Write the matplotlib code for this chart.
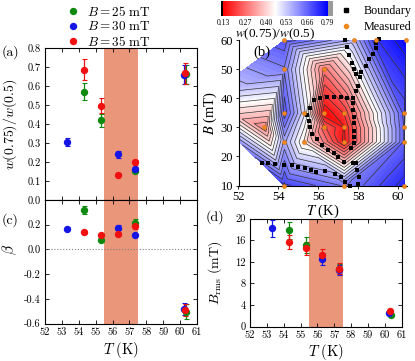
import matplotlib
matplotlib.use("Agg")
import matplotlib.pyplot as plt
import numpy as np
import matplotlib.tri as mtri
from matplotlib.colors import LinearSegmentedColormap, Normalize
from matplotlib.cm import ScalarMappable
from matplotlib.lines import Line2D

plt.rcParams['font.family'] = 'cmr10'
plt.rcParams['mathtext.fontset'] = 'cm'
plt.rcParams['axes.unicode_minus'] = False
plt.rcParams['axes.formatter.use_mathtext'] = False

# ---- series data: temperature (K), values, errors ----
fields = ["25", "30", "35"]
colors = ["#0f8a0f", "#1515e6", "#f01010"]

T_g = [54.3, 55.3, 57.3, 60.35]
T_b = [53.3, 56.3, 57.3, 60.25]
T_r = [54.3, 55.3, 56.3, 57.3, 60.3]

# (a) w(0.75)/w(0.5)
w_g = [0.57, 0.42, 0.155, 0.663]
w_g_err = [0.045, 0.035, 0.01, 0.05]
w_b = [0.305, 0.24, 0.161, 0.658]
w_b_err = [0.022, 0.018, 0.015, 0.05]
w_r = [0.685, 0.497, 0.133, 0.199, 0.668]
w_r_err = [0.055, 0.04, 0.008, 0.013, 0.055]

# (c) beta
beta_g = [0.32, 0.076, 0.217, -0.505]
beta_g_err = [0.03, 0.01, 0.03, 0.06]
beta_b = [0.169, 0.177, 0.116, -0.485]
beta_b_err = [0.015, 0.02, 0.01, 0.05]
beta_r = [0.137, 0.116, 0.123, 0.187, -0.49]
beta_r_err = [0.01, 0.01, 0.01, 0.02, 0.05]

# (d) B_rms (mT)
brms_g = [17.8, 15.1, 10.6, 2.2]
brms_g_err = [1.5, 1.4, 0.9, 0.2]
brms_b = [18.2, 12.5, 10.5, 2.6]
brms_b_err = [1.6, 1.1, 0.9, 0.2]
brms_r = [15.6, 14.5, 13.3, 10.7, 2.9]
brms_r_err = [1.3, 1.2, 1.1, 1.0, 0.2]

# (b) contour map: measured points (T, B) and w(0.75)/w(0.5)
meas_T = [54.3, 57.8, 58.9, 60.4, 54.3, 56.3,
          54.3, 55.3, 56.3, 57.3, 60.3,
          53.3, 56.3, 57.3, 60.3,
          54.3, 55.3, 57.3, 60.3,
          54.3, 57.3, 60.3]
meas_B = [60, 60, 60, 60, 50, 50,
          35, 35, 35, 35, 35,
          30, 30, 30, 30,
          25, 25, 25, 25,
          10, 10, 10]
meas_Z = [0.68, 0.55, 0.72, 0.78, 0.62, 0.28,
          0.68, 0.50, 0.135, 0.20, 0.67,
          0.30, 0.24, 0.16, 0.66,
          0.57, 0.42, 0.155, 0.66,
          0.70, 0.62, 0.74]
# point outside the visible window that closes the map on the left
extra_T = [50.0]
extra_B = [38.5]
extra_Z = [0.48]

bound_T = [57.33, 59.04, 58.91, 58.88, 57.44, 57.54, 58.74, 58.54, 58.38, 57.71,
           57.78, 57.88, 58.16, 58.11, 57.99, 57.91, 57.74, 57.46, 57.16, 56.79,
           56.46, 56.11, 55.78, 55.58, 55.46, 55.53, 55.61, 55.71, 55.96, 56.19,
           56.49, 56.79, 56.99, 57.29, 57.74, 57.91, 57.96, 58.03, 57.58, 57.33,
           57.13, 56.83, 56.33, 55.91, 55.66, 55.33, 54.99, 54.66, 54.29, 53.83,
           53.49, 53.19, 57.74, 57.74, 57.79, 57.79, 57.79, 57.79, 57.79, 57.66,
           57.99]
bound_B = [60.0, 60.3, 59.1, 57.3, 57.6, 55.0, 55.4, 53.6, 51.2, 52.2,
           50.1, 48.4, 49.0, 47.2, 44.3, 42.4, 40.2, 40.2, 40.4, 40.4,
           40.4, 40.2, 39.4, 36.6, 34.2, 32.3, 30.2, 27.7, 25.9, 23.9,
           22.2, 21.2, 19.7, 18.1, 17.8, 17.8, 15.5, 12.8, 9.9, 11.2,
           12.8, 13.9, 15.0, 14.7, 15.3, 15.9, 16.4, 17.0, 17.0, 17.3,
           17.6, 17.8, 38.3, 36.0, 33.7, 31.4, 28.8, 26.6, 24.5, 23.0,
           10.4]

cbar_ticks = [0.13, 0.27, 0.40, 0.53, 0.66, 0.79]

band = (55.5, 57.5)
band_color = "#e9967a"
times = "Liberation Serif"

W, H = 415, 361
fig = plt.figure(figsize=(W / 100, H / 100), dpi=100)


def px(l, t, r, b):
    return [l / W, 1 - b / H, (r - l) / W, (b - t) / H]


ax_a = fig.add_axes(px(45, 48, 197, 200))
ax_c = fig.add_axes(px(45, 200, 197, 323.5), sharex=ax_a)
ax_d = fig.add_axes(px(250, 218.5, 401.5, 326.7))
ax_b = fig.add_axes(px(238.5, 40.3, 407, 185.5))
cax = fig.add_axes(px(221, 1, 333, 16))

series = [
    (T_g, w_g, w_g_err, beta_g, beta_g_err, brms_g, brms_g_err, colors[0]),
    (T_b, w_b, w_b_err, beta_b, beta_b_err, brms_b, brms_b_err, colors[1]),
    (T_r, w_r, w_r_err, beta_r, beta_r_err, brms_r, brms_r_err, colors[2]),
]

ekw = dict(fmt='o', ms=4.3, capsize=1.8, elinewidth=0.9, capthick=0.8, zorder=3)
for T, w, we, bt, bte, br, bre, c in series:
    ax_a.errorbar(T, w, yerr=we, color=c, **ekw)
    ax_c.errorbar(T, bt, yerr=bte, color=c, **ekw)
    ax_d.errorbar(T, br, yerr=bre, color=c, **ekw)

for ax in (ax_a, ax_c, ax_d):
    ax.axvspan(band[0], band[1], color=band_color, lw=0, zorder=1)
    ax.tick_params(direction='in', top=True, right=True, length=3, width=0.6,
                   labelsize=7.5, pad=3)
    for s in ax.spines.values():
        s.set_linewidth(0.8)
    ax.set_xlim(52, 61)
    ax.set_xticks(range(52, 62))

ax_a.set_ylim(0, 0.8)
ax_a.set_yticks(np.arange(0, 0.81, 0.1))
ax_a.yaxis.set_major_formatter(matplotlib.ticker.FormatStrFormatter('%.1f'))
ax_a.tick_params(labelbottom=False)
ax_a.set_ylabel(r"$w(0.75)/w(0.5)$", fontsize=10)
ax_a.yaxis.set_label_coords(-0.17, 0.5)

ax_c.set_ylim(-0.6, 0.4)
ax_c.set_yticks([-0.6, -0.4, -0.2, 0.0, 0.2])
ax_c.yaxis.set_major_formatter(matplotlib.ticker.FormatStrFormatter('%.1f'))
ax_c.axhline(0, color='gray', ls=':', lw=0.8, zorder=2)
ax_c.set_ylabel(r"$\beta$", fontsize=11)
ax_c.yaxis.set_label_coords(-0.17, 0.6)
ax_c.set_xlabel(r"$T\ (\mathrm{K})$", fontsize=10.5, labelpad=2)

ax_d.set_ylim(0, 20)
ax_d.set_yticks(range(0, 21, 4))
ax_d.set_ylabel(r"$B_{\mathrm{rms}}\ (\mathrm{mT})$", fontsize=10)
ax_d.yaxis.set_label_coords(-0.17, 0.5)
ax_d.set_xlabel(r"$T\ (\mathrm{K})$", fontsize=10.5, labelpad=1)

fig.text(10 / W, 1 - 52 / H, "(a)", fontsize=10, ha='center', va='center')
fig.text(10 / W, 1 - 220 / H, "(c)", fontsize=10, ha='center', va='center')
fig.text(215 / W, 1 - 217 / H, "(d)", fontsize=10, ha='center', va='center')

handles = [Line2D([], [], marker='o', ls='none', ms=4.3, color=c) for c in colors]
labels = [r"$B = %s\ \mathrm{mT}$" % f for f in fields]
fig.legend(handles, labels, loc='upper left', bbox_to_anchor=(57 / W, 1.012),
           frameon=False, fontsize=9.5, handlelength=1.0, handletextpad=0.6,
           labelspacing=0.12, borderpad=0.2)

# ---- (b) contour map ----
cmap = LinearSegmentedColormap.from_list('rwb', ['#ff0000', '#ffffff', '#0000ff'])
cmap.set_under('black')
cmap.set_over('#9a9a9a')
vmin, vmax = 0.13, 0.79
all_T = np.array(meas_T + extra_T, dtype=float)
all_B = np.array(meas_B + extra_B, dtype=float)
Z = np.array(meas_Z + extra_Z)
# triangulate in screen-like proportions, then map back to data units
tri0 = mtri.Triangulation(all_T, all_B * 0.145)
tri = mtri.Triangulation(all_T, all_B, triangles=tri0.triangles)
ax_b.tricontourf(tri, Z, levels=np.linspace(vmin, vmax, 67), cmap=cmap,
                 extend='both', zorder=1)
ax_b.tricontour(tri, Z, levels=np.linspace(vmin, vmax, 21), colors='#333333',
                linewidths=0.5, zorder=2)
ax_b.scatter(bound_T, bound_B, marker='s', s=6, color='black', zorder=4,
             clip_on=False, linewidths=0)
ax_b.scatter(meas_T, meas_B, marker='o', s=9, color='#f0881e', zorder=5,
             clip_on=False, edgecolors='#c86a10', linewidths=0.3)
ax_b.set_xlim(52, 60.45)
ax_b.set_ylim(10, 60)
ax_b.set_xticks([52, 54, 56, 58, 60])
ax_b.set_yticks(range(10, 61, 10))
ax_b.spines['top'].set_visible(False)
ax_b.spines['right'].set_visible(False)
for s in ('left', 'bottom'):
    ax_b.spines[s].set_linewidth(0.8)
ax_b.tick_params(direction='out', length=2.5, width=0.6, labelsize=9, pad=1.5)
for lab in ax_b.get_xticklabels() + ax_b.get_yticklabels():
    lab.set_family(times)
ax_b.set_xlabel("$T$ (K)", fontsize=10.5, family=times, math_fontfamily='stix',
                labelpad=0)
ax_b.set_ylabel("$B$ (mT)", fontsize=10.5, family=times, math_fontfamily='stix',
                labelpad=1)
ax_b.text(0.14, 0.92, "(b)", transform=ax_b.transAxes, fontsize=10.5,
          family=times, ha='center', va='center')

sm = ScalarMappable(norm=Normalize(vmin, vmax), cmap=cmap)
cb = fig.colorbar(sm, cax=cax, orientation='horizontal', extend='both',
                  extendfrac=(0.02, 0.05), extendrect=True)
cb.outline.set_visible(False)
cb.set_ticks(cbar_ticks)
cb.ax.set_xticklabels(["%.2f" % v for v in cbar_ticks], family=times, fontsize=5.5)
cb.ax.tick_params(length=0, pad=2)
cb.set_label("$w$(0.75)/$w$(0.5)", family=times, math_fontfamily='stix',
             fontsize=9.5, labelpad=0)

bh = [Line2D([], [], marker='s', ls='none', ms=2.5, color='black'),
      Line2D([], [], marker='o', ls='none', ms=3, color='#f0881e')]
fig.legend(bh, ["Boundary", "Measured"], loc='upper right',
           bbox_to_anchor=(412 / W, 1 - 5 / H), frameon=False,
           prop={'family': times, 'size': 8.7}, handlelength=1.0,
           handletextpad=1.0, labelspacing=0.35, borderpad=0.0,
           borderaxespad=0.0)

fig.savefig("out.png", dpi=100)
